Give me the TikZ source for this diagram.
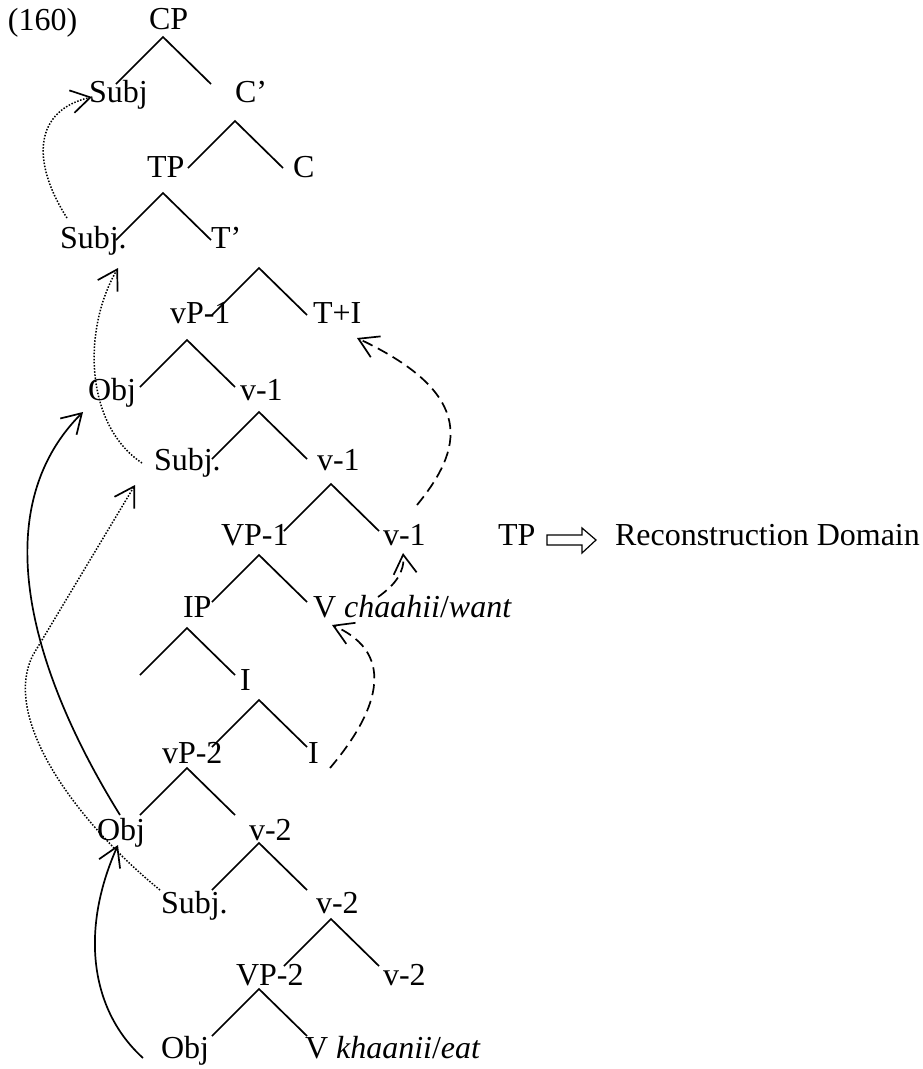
\documentclass[tikz,border=0pt]{standalone}
\usepackage{fontspec}
\setmainfont{Liberation Serif}
\usetikzlibrary{arrows.meta}
\begin{document}
\begin{tikzpicture}[x=1pt,y=-1pt,
  lbl/.style={inner sep=0pt, outer sep=0pt, anchor=base west, font=\fontsize{32}{38}\selectfont},
  edge/.style={line width=1.7pt},
  barb/.style={-{Straight Barb[length=19pt,width=23pt,line width=1.7pt]}},
  mvdot/.style={barb, line width=1.5pt, dash pattern=on 1.5pt off 1.6pt},
  mvsolid/.style={barb, line width=1.7pt},
  mvdash/.style={barb, line width=1.7pt, dash pattern=on 11pt off 6pt},
  hollow/.style={line width=1.2pt, line join=miter}
]
\useasboundingbox (0,0) rectangle (922,1069);

% labels
\node[lbl] (n160) at (8,30) {(160)};
\node[lbl] (cp) at (149,29) {CP};
\node[lbl] (subj1) at (89,102) {Subj};
\node[lbl] (cbar) at (235,102) {C’};
\node[lbl] (tp) at (147,177) {TP};
\node[lbl] (c) at (293,177) {C};
\node[lbl] (subj2) at (60,248) {Subj.};
\node[lbl] (tbar) at (211,248) {T’};
\node[lbl] (vp1) at (170,323) {vP-1};
\node[lbl] (ti) at (313,323) {T+I};
\node[lbl] (obj1) at (88,400) {Obj};
\node[lbl] (v1a) at (240,400) {v-1};
\node[lbl] (subj3) at (154,470) {Subj.};
\node[lbl] (v1b) at (317,470) {v-1};
\node[lbl] (bvp1) at (221,545) {VP-1};
\node[lbl] (v1c) at (383,545) {v-1};
\node[lbl] (tp2) at (498,545) {TP};
\node[lbl] (recon) at (615,545) {Reconstruction Domain};
\node[lbl] (ip) at (183,617) {IP};
\node[lbl] (vwant) at (313,617) {V \textit{chaahii}/\textit{want}};
\node[lbl] (i1) at (240,690) {I};
\node[lbl] (vp2) at (162,763) {vP-2};
\node[lbl] (i2) at (308,763) {I};
\node[lbl] (obj2) at (97,840) {Obj};
\node[lbl] (v2a) at (249,840) {v-2};
\node[lbl] (subj4) at (161,913) {Subj.};
\node[lbl] (v2b) at (316,913) {v-2};
\node[lbl] (bvp2) at (236,985) {VP-2};
\node[lbl] (v2c) at (383,985) {v-2};
\node[lbl] (obj3) at (161,1058) {Obj};
\node[lbl] (veat) at (305,1058) {V \textit{khaanii}/\textit{eat}};

% branch apexes
\coordinate (aCP) at (163,37);
\coordinate (aCbar) at (235,121);
\coordinate (aTP) at (163,193);
\coordinate (aTbar) at (259,268);
\coordinate (avP1) at (187,340);
\coordinate (av1a) at (259,412);
\coordinate (av1b) at (331,484);
\coordinate (aVP1) at (259,555);
\coordinate (aIP) at (187,628);
\coordinate (aI) at (259,700);
\coordinate (avP2) at (187,768);
\coordinate (av2a) at (259,843);
\coordinate (av2b) at (331,919);
\coordinate (aVP2) at (259,989);
\foreach \a in {aCP,aCbar,aTP,aTbar,avP1,av1a,av1b,aVP1,aIP,aI,avP2,av2a,av2b,aVP2}{
  \draw[edge] ([shift={(-47,47)}]\a) -- (\a) -- ([shift={(48,47)}]\a);
}

% movement arrows
\draw[mvdot] ([shift={(7,-30)}]subj2.base west) .. controls (30,160) and (35,110) .. ([shift={(3,-5)}]subj1.base west);
\draw[mvdot] ([shift={(-12,-7)}]subj3.base west) .. controls (85,425) and (82,330) .. ([shift={(58,20)}]subj2.base west);
\draw[mvdot] ([shift={(-1,-23)}]subj4.base west) .. controls (80,825) and (0,720) .. (33,655) -- ([shift={(-19,15)}]subj3.base west);
\draw[mvsolid] ([shift={(23,-25)}]obj2.base west) .. controls (30,670) and (-15,510) .. ([shift={(-5,12)}]obj1.base west);
\draw[mvsolid] ([shift={(-18,0)}]obj3.base west) .. controls (90,1010) and (80,930) .. ([shift={(21,5)}]obj2.base west);
\draw[mvdash] ([shift={(34,-40)}]v1c.base west) .. controls (462,450) and (478,395) .. ([shift={(44,15)}]ti.base west);
\draw[mvdash] ([shift={(65,-20)}]vwant.base west) .. controls (395,585) and (405,572) .. ([shift={(20,8)}]v1c.base west);
\draw[mvdash] ([shift={(22,5)}]i2.base west) .. controls (375,715) and (400,655) .. ([shift={(19,8)}]vwant.base west);

% hollow arrow TP => Reconstruction Domain
\draw[hollow] (547,535) -- (582,535) -- (582,528) -- (596,540) -- (582,553) -- (582,545) -- (547,545) -- cycle;
\end{tikzpicture}
\end{document}
